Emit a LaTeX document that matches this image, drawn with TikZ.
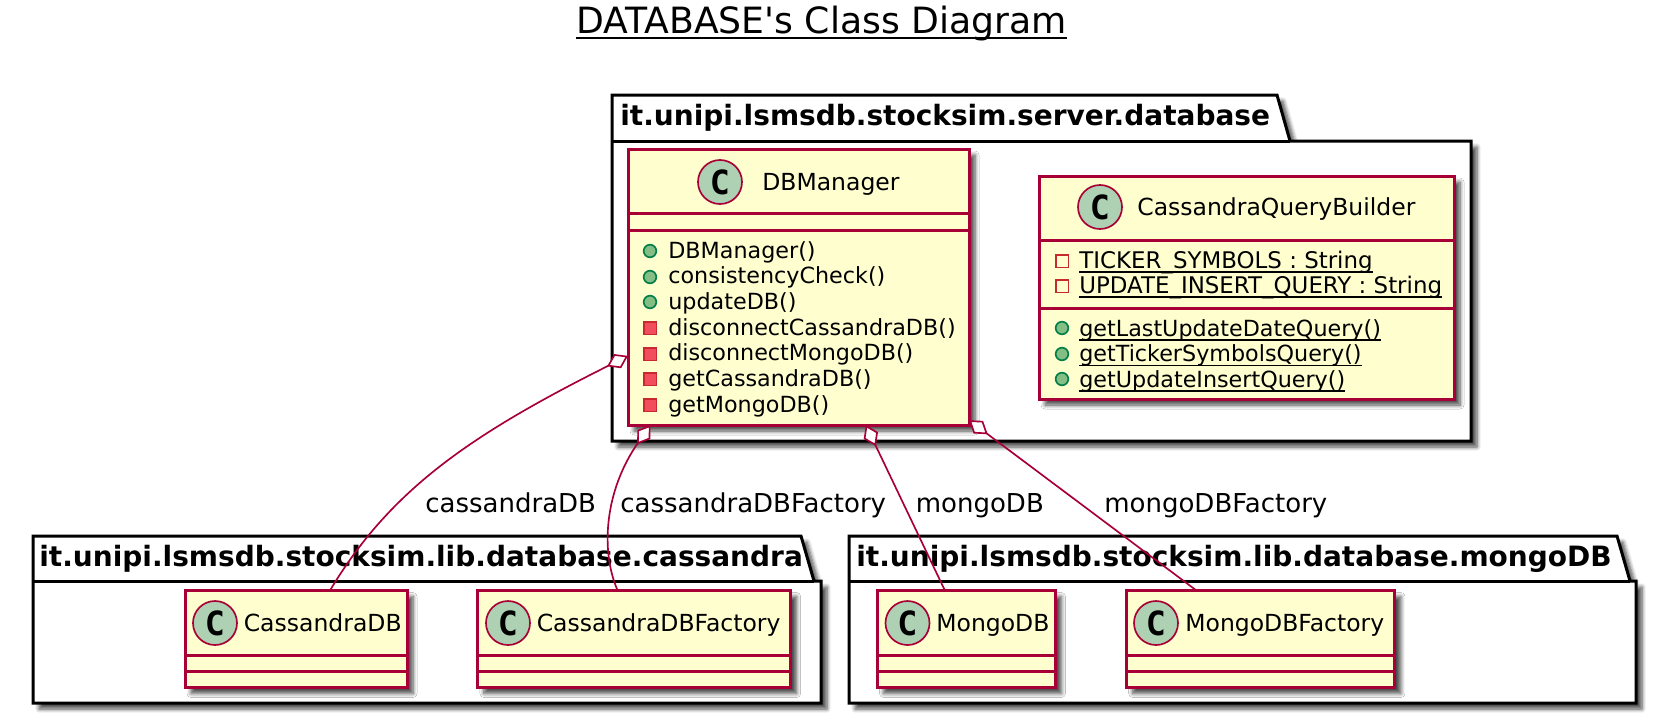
\documentclass[tikz,border=0pt]{standalone}
\usepackage{fontspec}
\setmainfont{DejaVu Sans}
\newfontfamily\spotfont{DejaVu Sans Mono}[BoldFont={DejaVu Sans Mono Bold}]
\usetikzlibrary{arrows.meta,shapes.geometric,shadows.blur}
\definecolor{classborder}{HTML}{A80036}
\definecolor{classfill}{HTML}{FEFECE}
\definecolor{spotfill}{HTML}{ADD1B2}
\definecolor{pubfill}{HTML}{84BE84}
\definecolor{pubdraw}{HTML}{038048}
\definecolor{privfill}{HTML}{F24D5C}
\definecolor{privdraw}{HTML}{C82930}
\newsavebox{\ulbox}
\newcommand{\ulmember}[1]{\sbox{\ulbox}{#1}\usebox{\ulbox}\llap{\rule[-2.9pt]{\wd\ulbox}{1pt}}}
\newcommand{\ultitle}[1]{\sbox{\ulbox}{#1}\usebox{\ulbox}\llap{\rule[-3.6pt]{\wd\ulbox}{1.2pt}}}

\begin{document}
\begin{tikzpicture}[
  x=0.6pt, y=-0.6pt,
  softshadow/.style={
    blur shadow={shadow xshift=3.6pt, shadow yshift=-3.6pt, shadow blur radius=2.4pt, shadow blur steps=6, shadow opacity=70}
  },
  pkgframe/.style={draw=black, fill=white, line width=1.8pt, line join=miter, softshadow},
  pkgline/.style={draw=black, line width=1.8pt},
  pkgtitle/.style={anchor=base west, inner sep=0pt, font=\fontsize{16.8}{18}\selectfont\bfseries},
  classbox/.style={
    draw=classborder,
    fill=classfill,
    line width=1.8pt,
    outer sep=0pt,
    inner sep=0pt,
    softshadow
  },
  classline/.style={draw=classborder, line width=1.8pt},
  spot/.style={
    circle,
    draw=classborder,
    fill=spotfill,
    line width=1pt,
    minimum size=26.4pt,
    inner sep=0pt,
    font=\spotfont\fontsize{20}{20}\selectfont\bfseries
  },
  classname/.style={anchor=base west, inner sep=0pt, font=\fontsize{14.1}{16}\selectfont},
  memtext/.style={anchor=base west, inner sep=0pt, font=\fontsize{13.35}{15}\selectfont},
  fieldtext/.style={anchor=base west, inner sep=0pt, font=\fontsize{13.75}{15}\selectfont},
  pubicon/.style={circle, draw=pubdraw, fill=pubfill, line width=1pt, minimum size=7.6pt, inner sep=0pt},
  privicon/.style={rectangle, draw=privdraw, fill=privfill, line width=1pt, minimum size=7.6pt, inner sep=0pt},
  privfield/.style={rectangle, draw=privdraw, fill=classfill, line width=1pt, minimum size=7.6pt, inner sep=0pt},
  assoc/.style={{Diamond[length=14pt, width=9.5pt, fill=white, line width=1pt]}-, draw=classborder, line width=1pt},
  assoclabel/.style={anchor=base west, inner sep=0pt, font=\fontsize{15.6}{17}\selectfont}
]
\useasboundingbox (0,0) rectangle (1668,713);

% Title
\node[anchor=base, inner sep=0pt, font=\fontsize{21.7}{24}\selectfont] (title) at (821.5,33)
  {\ultitle{DATABASE\textquotesingle s Class Diagram}};

% Server package
\draw[pkgframe] (612,95) -- (1277,95) -- (1290,141) -- (1471,141) -- (1471,441) -- (612,441) -- cycle;
\draw[pkgline] (612,141) -- (1290,141);
\node[pkgtitle] (serverpkg) at (620,125) {it.unipi.lsmsdb.stocksim.server.database};

% Cassandra package
\draw[pkgframe] (33,536) -- (801,536) -- (814,581) -- (821,581) -- (821,703) -- (33,703) -- cycle;
\draw[pkgline] (33,581) -- (814,581);
\node[pkgtitle] (cassandrapkg) at (39,566) {it.unipi.lsmsdb.stocksim.lib.database.cassandra};

% MongoDB package
\draw[pkgframe] (849,536) -- (1617,536) -- (1630,581) -- (1636,581) -- (1636,703) -- (849,703) -- cycle;
\draw[pkgline] (849,581) -- (1630,581);
\node[pkgtitle] (mongopkg) at (856,566) {it.unipi.lsmsdb.stocksim.lib.database.mongoDB};

% DBManager
\node[classbox, minimum width=204.6pt, minimum height=165.6pt] (dbmanager) at (798.5,287) {};
\draw[classline] (dbmanager.west |- 0,213) -- (dbmanager.east |- 0,213);
\draw[classline] (dbmanager.west |- 0,230) -- (dbmanager.east |- 0,230);
\node[spot] (dbspot) at (720,182) {C};
\node[classname] (dbname) at (762,190) {DBManager};
\node[pubicon] (i1) at (650,251) {};
\node[memtext] (m1) at (668,258) {DBManager()};
\node[pubicon] (i2) at (650,277) {};
\node[memtext] (m2) at (668,283.5) {consistencyCheck()};
\node[pubicon] (i3) at (650,302) {};
\node[memtext] (m3) at (668,309) {updateDB()};
\node[privicon] (i4) at (650,328) {};
\node[memtext] (m4) at (668,335) {disconnectCassandraDB()};
\node[privicon] (i5) at (650,354) {};
\node[memtext] (m5) at (668,360.5) {disconnectMongoDB()};
\node[privicon] (i6) at (650,379) {};
\node[memtext] (m6) at (668,386) {getCassandraDB()};
\node[privicon] (i7) at (650,405) {};
\node[memtext] (m7) at (668,412) {getMongoDB()};

% CassandraQueryBuilder
\node[classbox, minimum width=249pt, minimum height=133.8pt] (querybuilder) at (1246.5,287.5) {};
\draw[classline] (querybuilder.west |- 0,240) -- (querybuilder.east |- 0,240);
\draw[classline] (querybuilder.west |- 0,308) -- (querybuilder.east |- 0,308);
\node[spot] (qbspot) at (1100,207) {C};
\node[classname] (qbname) at (1137,215) {CassandraQueryBuilder};
\node[privfield] (f1) at (1062,261) {};
\node[fieldtext] (q1) at (1079,268) {\ulmember{TICKER\_SYMBOLS : String}};
\node[privfield] (f2) at (1062,286) {};
\node[fieldtext] (q2) at (1079,293) {\ulmember{UPDATE\_INSERT\_QUERY : String}};
\node[pubicon] (f3) at (1062,328) {};
\node[memtext] (q3) at (1079,336) {\ulmember{getLastUpdateDateQuery()}};
\node[pubicon] (f4) at (1062,354) {};
\node[memtext] (q4) at (1079,361.5) {\ulmember{getTickerSymbolsQuery()}};
\node[pubicon] (f5) at (1062,379) {};
\node[memtext] (q5) at (1079,387) {\ulmember{getUpdateInsertQuery()}};

% Cassandra classes
\node[classbox, minimum width=133.2pt, minimum height=58.2pt] (cassandradb) at (296,639) {};
\draw[classline] (cassandradb.west |- 0,655) -- (cassandradb.east |- 0,655);
\draw[classline] (cassandradb.west |- 0,671) -- (cassandradb.east |- 0,671);
\node[spot] (cdspot) at (215,623) {C};
\node[classname] (cdname) at (243.5,631) {CassandraDB};

\node[classbox, minimum width=187.6pt, minimum height=58.2pt] (cassandrafactory) at (634.3,639) {};
\draw[classline] (cassandrafactory.west |- 0,655) -- (cassandrafactory.east |- 0,655);
\draw[classline] (cassandrafactory.west |- 0,671) -- (cassandrafactory.east |- 0,671);
\node[spot] (cfspot) at (508,623) {C};
\node[classname] (cfname) at (536.5,631) {CassandraDBFactory};

% MongoDB classes
\node[classbox, minimum width=106.8pt, minimum height=58.2pt] (mongodb) at (966.5,639) {};
\draw[classline] (mongodb.west |- 0,655) -- (mongodb.east |- 0,655);
\draw[classline] (mongodb.west |- 0,671) -- (mongodb.east |- 0,671);
\node[spot] (mdspot) at (907.5,623) {C};
\node[classname] (mdname) at (936,631) {MongoDB};

\node[classbox, minimum width=161pt, minimum height=58.2pt] (mongofactory) at (1260.8,639) {};
\draw[classline] (mongofactory.west |- 0,655) -- (mongofactory.east |- 0,655);
\draw[classline] (mongofactory.west |- 0,671) -- (mongofactory.east |- 0,671);
\node[spot] (mfspot) at (1156,623) {C};
\node[classname] (mfname) at (1185,631) {MongoDBFactory};

% Connectors
\draw[assoc] (dbmanager.202.9) .. controls (470,435) and (390,490) .. (cassandradb.55.8);
\draw[assoc] (dbmanager.223.1) .. controls (605,490) and (600,550) .. (cassandrafactory.109.6);
\draw[assoc] (dbmanager.296.4) -- (mongodb.114.9);
\draw[assoc] (dbmanager.322.5) -- (mongofactory.143.8);

% Connector labels
\node[assoclabel] (l1) at (425,512) {cassandraDB};
\node[assoclabel] (l2) at (620,512) {cassandraDBFactory};
\node[assoclabel] (l3) at (915.5,512) {mongoDB};
\node[assoclabel] (l4) at (1104,512) {mongoDBFactory};

\end{tikzpicture}
\end{document}
